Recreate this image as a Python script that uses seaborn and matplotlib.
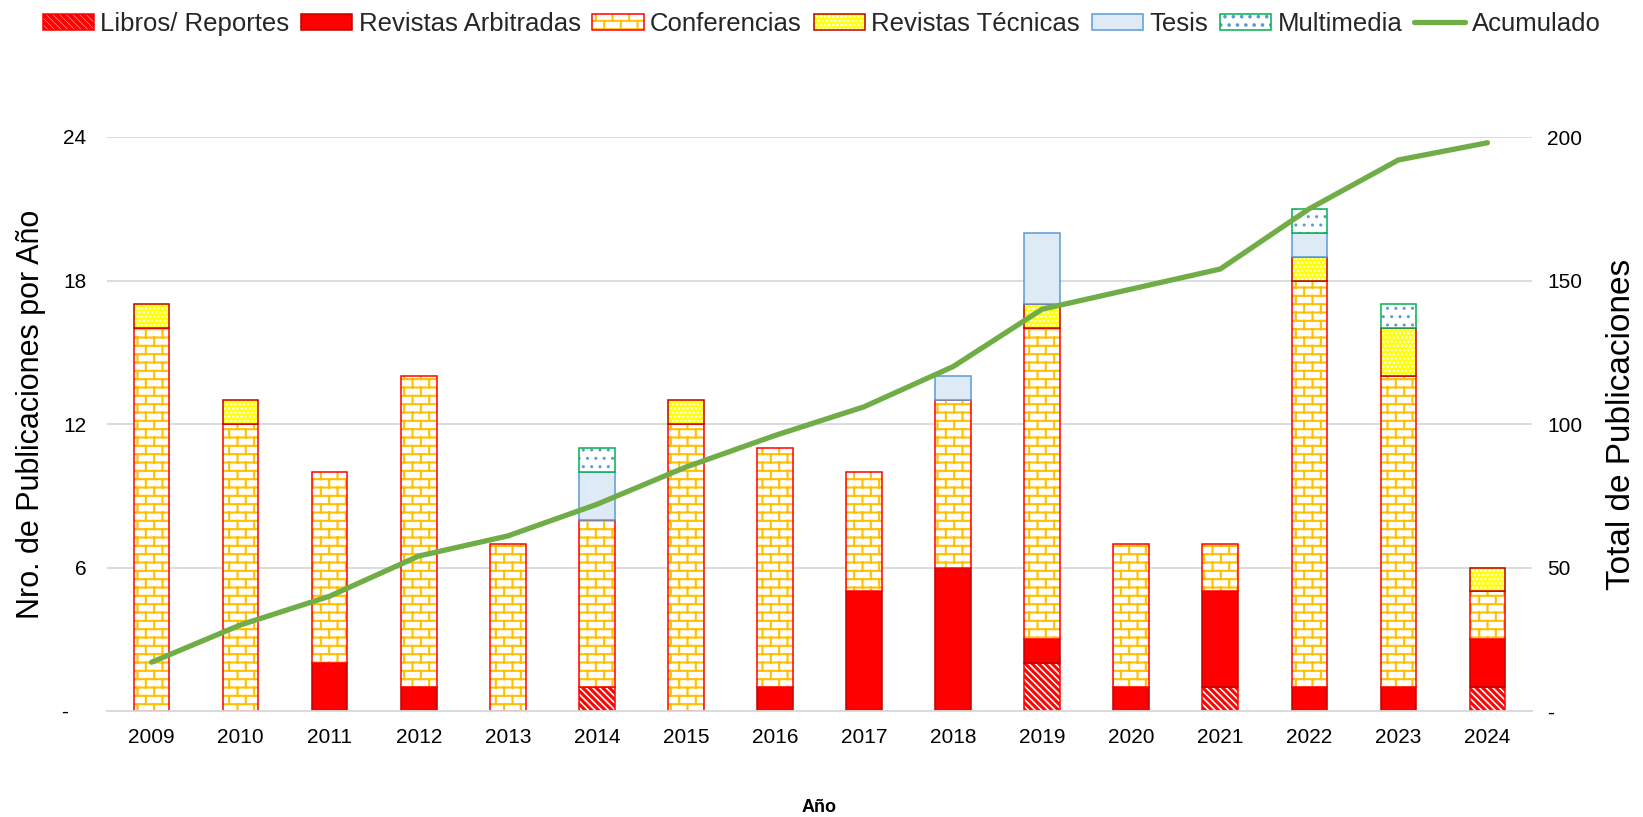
import warnings
warnings.filterwarnings("ignore")
import numpy as np
import pandas as pd
import matplotlib
matplotlib.use("Agg")
import matplotlib.pyplot as plt
import matplotlib.hatch as mhatch
import matplotlib.patches as mpatches
from matplotlib.lines import Line2D
from matplotlib.path import Path
from matplotlib.colors import to_rgba
import seaborn as sns

# ---------------- data ----------------
years = [str(y) for y in range(2009, 2025)]
libros = [0, 0, 0, 0, 0, 1, 0, 0, 0, 0, 2, 0, 1, 0, 0, 1]
rev_arbitradas = [0, 0, 2, 1, 0, 0, 0, 1, 5, 6, 1, 1, 4, 1, 1, 2]
conferencias = [16, 12, 8, 13, 7, 7, 12, 10, 5, 7, 13, 6, 2, 17, 13, 2]
rev_tecnicas = [1, 1, 0, 0, 0, 0, 1, 0, 0, 0, 1, 0, 0, 1, 2, 1]
tesis = [0, 0, 0, 0, 0, 2, 0, 0, 0, 1, 3, 0, 0, 1, 0, 0]
multimedia = [0, 0, 0, 0, 0, 1, 0, 0, 0, 0, 0, 0, 0, 1, 1, 0]
acumulado = [17, 30, 40, 54, 61, 72, 85, 96, 106, 120, 140, 147, 154, 175, 192, 198]

left_ticks = [0, 6, 12, 18, 24]
left_ticklabels = ["-   ", "6", "12", "18", "24"]
right_ticks = [0, 50, 100, 150, 200]
right_ticklabels = ["-", "50", "100", "150", "200"]


# ---------------- custom hatches ----------------
class BrickHatch(mhatch.HatchPatternBase):
    """'B' -> brick wall pattern"""
    def __init__(self, hatch, density):
        c = hatch.count('B')
        self.rows = int(2 * c * density)
        self.cols = int(c * density)
        if c:
            self.num_vertices = 2 * self.rows + 2 * (self.rows + 1) * self.cols
        else:
            self.num_vertices = 0

    def set_vertices_and_codes(self, vertices, codes):
        n, m = self.rows, self.cols
        ys = (np.arange(n) + 0.5) / n
        vertices[0:2 * n:2, 0] = 0.0
        vertices[0:2 * n:2, 1] = ys
        vertices[1:2 * n:2, 0] = 1.0
        vertices[1:2 * n:2, 1] = ys
        k = 2 * n
        for r in range(n):
            off = (0.25 if r % 2 == 0 else 0.75) / m
            y0 = (r + 0.5) / n
            y1 = (r + 1.5) / n
            for j in range(m):
                x = j / m + off
                if y1 <= 1.0:
                    vertices[k] = (x, y0)
                    vertices[k + 1] = (x, y1)
                    k += 2
                else:
                    vertices[k] = (x, y0)
                    vertices[k + 1] = (x, 1.0)
                    vertices[k + 2] = (x, 0.0)
                    vertices[k + 3] = (x, y1 - 1.0)
                    k += 4
        codes[0::2] = Path.MOVETO
        codes[1::2] = Path.LINETO


class StripeHatch(mhatch.HatchPatternBase):
    """'S' -> wide filled diagonal stripes going down to the right"""
    def __init__(self, hatch, density):
        c = hatch.count('S')
        self.n = int(2.5 * density * c)
        self.bands = list(range(-2, 2 * self.n + 2)) if c else []
        self.num_vertices = 5 * len(self.bands)

    def set_vertices_and_codes(self, vertices, codes):
        n = self.n
        w = 0.5 / n
        for i, k in enumerate(self.bands):
            c0 = k / n
            vertices[5 * i + 0] = (-0.5, c0 + 0.5)
            vertices[5 * i + 1] = (1.5, c0 - 1.5)
            vertices[5 * i + 2] = (1.5, c0 + w - 1.5)
            vertices[5 * i + 3] = (-0.5, c0 + w + 0.5)
            vertices[5 * i + 4] = (-0.5, c0 + 0.5)
            codes[5 * i + 0] = Path.MOVETO
            codes[5 * i + 1] = Path.LINETO
            codes[5 * i + 2] = Path.LINETO
            codes[5 * i + 3] = Path.LINETO
            codes[5 * i + 4] = Path.CLOSEPOLY


mhatch._hatch_types.append(BrickHatch)
mhatch._hatch_types.append(StripeHatch)

# ---------------- style ----------------
sns.set_theme(style="white")
plt.rcParams['font.family'] = ['Liberation Sans', 'DejaVu Sans']
plt.rcParams['hatch.linewidth'] = 1.4

W, H = 1643, 817
fig = plt.figure(figsize=(W / 100, H / 100), dpi=100)
ax = fig.add_axes([107 / W, 1 - 711 / H, (1532 - 107) / W, (711 - 137) / H])

series = [
    ("Libros/ Reportes", libros, "white", "#FF0000", "S", "#FF0000", 0.5),
    ("Revistas Arbitradas", rev_arbitradas, "#FF0000", "#C00000", None, None, 1.0),
    ("Conferencias", conferencias, "white", "#FF0000", "B", "#FFC000", 1.5),
    ("Revistas Técnicas", rev_tecnicas, "#FFFF00", "#C00000", "....", "white", 1.2),
    ("Tesis", tesis, "#DEEBF7", "#5B9BD5", None, None, 1.0),
    ("Multimedia", multimedia, "white", "#00B050", "..", "#5B9BD5", 1.0),
]


def style_patch(p, hatch_color, hlw):
    if hatch_color is not None:
        p._hatch_color = to_rgba(hatch_color)
    if hasattr(p, "set_hatch_linewidth"):
        p.set_hatch_linewidth(hlw)


bottom = np.zeros(len(years))
handles = []
for label, vals, face, edge, hatch, hcol, hlw in series:
    sns.barplot(x=years, y=vals, ax=ax, color=face, saturation=1, width=0.4,
                errorbar=None, bottom=bottom.copy(), edgecolor=edge,
                linewidth=1.1, hatch=hatch)
    cont = ax.containers[-1]
    for p, v in zip(cont.patches, vals):
        style_patch(p, hcol, hlw)
        if v == 0:
            p.set_visible(False)
    h = mpatches.Patch(facecolor=face, edgecolor=edge, hatch=hatch, linewidth=1.1, label=label)
    style_patch(h, hcol, hlw)
    handles.append(h)
    bottom = bottom + np.array(vals)

ax.set_ylim(0, 24)
ax.set_yticks(left_ticks)
ax.set_yticklabels(left_ticklabels)
ax.set_xlim(-0.5, len(years) - 0.5)

ax.yaxis.grid(True, color="#D9D9D9", linewidth=1.3)
ax.xaxis.grid(False)
ax.set_axisbelow(True)
for s in ["top", "left", "right"]:
    ax.spines[s].set_visible(False)
ax.spines["bottom"].set_color("#D9D9D9")
ax.spines["bottom"].set_linewidth(1.3)

ax.tick_params(axis="x", which="major", length=0, pad=12, labelsize=15, labelcolor="black")
ax.set_xticks(np.arange(-0.5, len(years), 1.0), minor=True)
ax.tick_params(axis="x", which="minor", length=6, width=1.3, color="#D9D9D9", direction="out")
ax.tick_params(axis="y", which="both", length=0, pad=15, labelsize=15, labelcolor="black")

ax.set_xlabel("Año", fontsize=13, fontweight="bold", labelpad=38, color="black")
ax.set_ylabel("Nro. de Publicaciones por Año", fontsize=22, labelpad=14, color="black")
ax.yaxis.set_label_coords(-0.043, 0.517)

# ---------------- cumulative line ----------------
ax2 = ax.twinx()
sns.lineplot(x=np.arange(len(years)), y=acumulado, ax=ax2, color="#70AD47",
             linewidth=3.8, legend=False, sort=False)
ax2.set_ylim(0, 200)
ax2.set_yticks(right_ticks)
ax2.set_yticklabels(right_ticklabels)
ax2.tick_params(axis="y", length=0, pad=11, labelsize=15, labelcolor="black")
for s in ax2.spines.values():
    s.set_visible(False)
ax2.grid(False)
ax2.set_ylabel("Total de Publicaciones", fontsize=24, labelpad=17, color="black", rotation=90)
ax.set_xlim(-0.5, len(years) - 0.5)

handles.append(Line2D([0], [0], color="#70AD47", linewidth=3.8, label="Acumulado"))

fig.legend(handles=handles, labels=[h.get_label() for h in handles],
           loc="center", bbox_to_anchor=(0.5, 1 - 24 / H), ncol=7, frameon=False,
           fontsize=18.5, handlelength=2.0, handleheight=0.6, handletextpad=0.25,
           columnspacing=0.45, borderaxespad=0, borderpad=0)

plt.rcParams['hatch.linewidth'] = 1.4
fig.savefig("out.png", dpi=100)
